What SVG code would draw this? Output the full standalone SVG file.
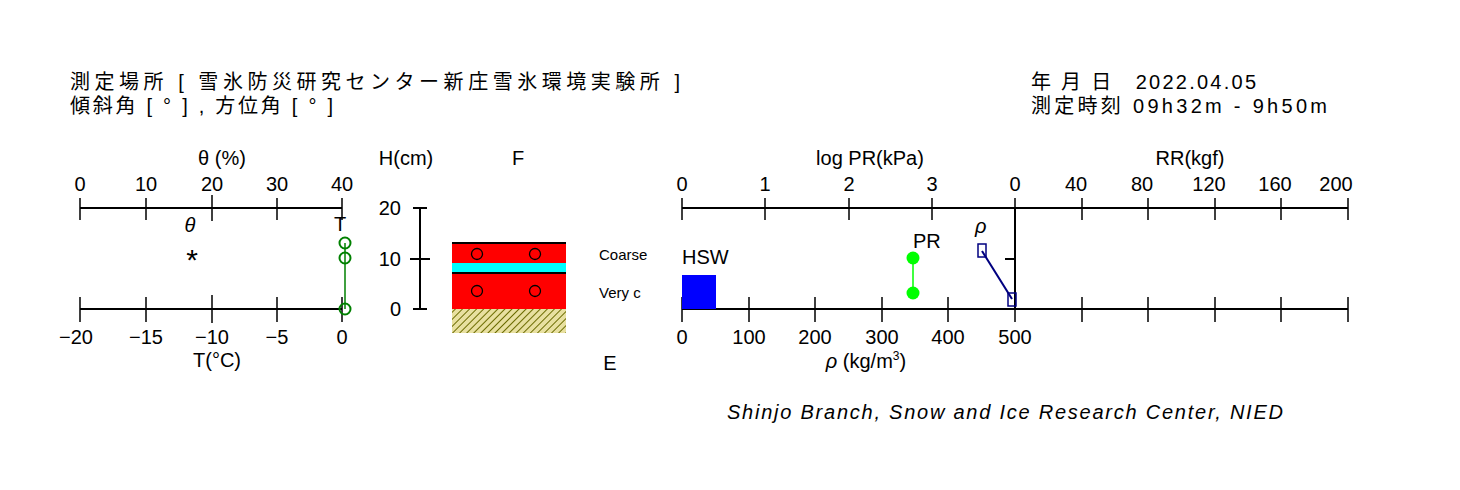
<svg xmlns="http://www.w3.org/2000/svg" width="1460" height="490" viewBox="0 0 1460 490">
<style>
text{font-family:"Liberation Sans","Noto Sans CJK JP",sans-serif;font-size:20px;fill:#000}
.m{text-anchor:middle}
.s{font-size:15px}
.ax{stroke:#000;stroke-width:2;fill:none}
.tk{stroke:#000;stroke-width:1.5}
</style>
<defs>
<pattern id="h" width="5" height="5" patternUnits="userSpaceOnUse" patternTransform="rotate(45)">
<rect width="5" height="5" fill="#e8e0a0"/><line x1="0" y1="0" x2="0" y2="5" stroke="#6b6b00" stroke-width="2"/>
</pattern>
</defs>
<rect width="1460" height="490" fill="#fff"/>
<g id="header">
<text x="70" y="89" textLength="610" lengthAdjust="spacing">測定場所 [ 雪氷防災研究センター新庄雪氷環境実験所 ]</text>
<text x="70" y="113" textLength="263" lengthAdjust="spacing">傾斜角 [ ° ] , 方位角 [ ° ]</text>
<text x="1031" y="89" textLength="225" lengthAdjust="spacing">年 月 日　2022.04.05</text>
<text x="1031" y="113" textLength="296" lengthAdjust="spacing">測定時刻  09h32m - 9h50m</text>
</g>
<g id="connectors">
<path class="ax" d="M80 208H342M80 309H342"/>
<path class="tk" d="M80 198V220M146 198V220M212 195V221M277 198V220M342 198V220M80 297V322M146 297V322M212 295V323M277 297V322M342 297V322"/>
<path class="ax" d="M420 208V309M413 208H427M410 259H430M413 309H427"/>
<path class="ax" d="M682 208H1348M682 309H1348M1015 208V309M1005 259H1015"/>
<path class="tk" d="M682 198V220M765 198V220M849 198V220M932 198V220M1015 198V220M1082 198V220M1148 198V220M1215 198V220M1281 198V220M1348 198V220M682 297V322M749 297V322M815 297V322M882 297V322M948 297V322M1015 297V322M1082 297V322M1148 297V322M1215 297V322M1281 297V322M1348 297V322"/>
</g>
<g id="theta-axis">
<text class="m" x="80" y="191">0</text><text class="m" x="146" y="191">10</text><text class="m" x="212" y="191">20</text><text class="m" x="277" y="191">30</text><text class="m" x="342" y="191">40</text>
<text class="m" x="222" y="165">θ (%)</text>
<text class="m" x="190" y="232" font-style="italic">θ</text>
<text class="m" x="192" y="270" style="font-size:30px">*</text>
</g>
<g id="T-axis">
<text class="m" x="76" y="344">−20</text><text class="m" x="146" y="344">−15</text><text class="m" x="212" y="344">−10</text><text class="m" x="277" y="344">−5</text><text class="m" x="342" y="344">0</text>
<text class="m" x="217" y="367">T(°C)</text>
<text class="m" x="340" y="231">T</text>
<path d="M345 243V309" stroke="#008000" stroke-width="1.5"/>
<g fill="none" stroke="#008000" stroke-width="2"><circle cx="345" cy="243" r="5.5"/><circle cx="345" cy="258" r="5.5"/><circle cx="345" cy="309" r="5.5"/></g>
</g>
<g id="H-axis">
<text class="m" x="406" y="165">H(cm)</text>
<text x="401" y="215" text-anchor="end">20</text><text x="401" y="266" text-anchor="end">10</text><text x="401" y="316" text-anchor="end">0</text>
</g>
<g id="layers">
<text class="m" x="518" y="165">F</text>
<text class="m" x="610" y="370">E</text>
<rect x="452" y="243" width="114" height="20" fill="#f00"/>
<rect x="452" y="263" width="114" height="10" fill="#0ff"/>
<rect x="452" y="273" width="114" height="36" fill="#f00"/>
<path d="M452 243H566M452 273H566" stroke="#000" stroke-width="2"/>
<rect x="452" y="309" width="114" height="24" fill="url(#h)"/>
<g fill="none" stroke="#000" stroke-width="1.3"><circle cx="477" cy="254" r="5.5"/><circle cx="535" cy="254" r="5.5"/><circle cx="477" cy="291" r="5.5"/><circle cx="535" cy="291" r="5.5"/></g>
<text class="s" x="599" y="260">Coarse</text>
<text class="s" x="599" y="298">Very c</text>
</g>
<g id="right-axis">
<text class="m" x="870" y="165">log PR(kPa)</text>
<text class="m" x="1190" y="165">RR(kgf)</text>
<text class="m" x="682" y="191">0</text><text class="m" x="765" y="191">1</text><text class="m" x="849" y="191">2</text><text class="m" x="932" y="191">3</text><text class="m" x="1015" y="191">0</text><text class="m" x="1076" y="191">40</text><text class="m" x="1142" y="191">80</text><text class="m" x="1209" y="191">120</text><text class="m" x="1275" y="191">160</text><text class="m" x="1336" y="191">200</text>
<text class="m" x="682" y="344">0</text><text class="m" x="749" y="344">100</text><text class="m" x="815" y="344">200</text><text class="m" x="882" y="344">300</text><text class="m" x="948" y="344">400</text><text class="m" x="1015" y="344">500</text>
<text class="m" x="866" y="368"><tspan font-style="italic">ρ</tspan> (kg/m<tspan font-size="12" dy="-8">3</tspan><tspan dy="8">)</tspan></text>
</g>
<g id="HSW">
<rect x="682" y="275" width="34" height="34" fill="#00f"/>
<text x="682" y="264">HSW</text>
</g>
<g id="PR">
<text x="913" y="248">PR</text>
<path d="M913 258V293" stroke="#0f0" stroke-width="1.5"/>
<circle cx="913" cy="258" r="6.5" fill="#0f0"/><circle cx="913" cy="293" r="6.5" fill="#0f0"/>
</g>
<g id="rho">
<text x="975" y="233" font-style="italic">ρ</text>
<path d="M982 251L1012 299" stroke="#000080" stroke-width="2"/>
<rect x="978" y="244" width="8" height="13" fill="none" stroke="#000080" stroke-width="1.5"/>
<rect x="1008" y="293" width="8" height="13" fill="none" stroke="#000080" stroke-width="1.5"/>
</g>
<text x="727" y="419" font-style="italic" textLength="556" lengthAdjust="spacing">Shinjo Branch, Snow and Ice Research Center, NIED</text>
</svg>
